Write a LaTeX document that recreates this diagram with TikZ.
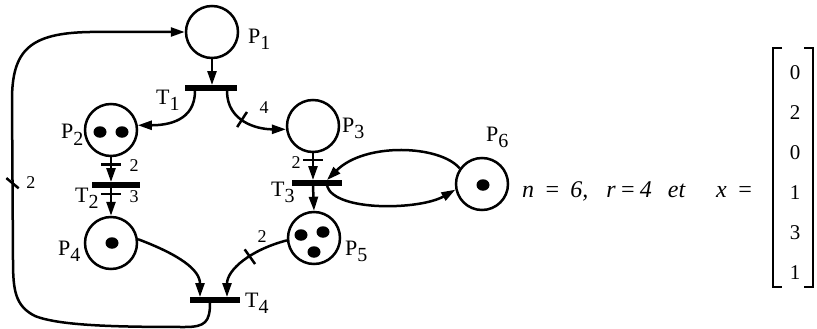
\documentclass[tikz,border=0pt]{standalone}
\usepackage{fontspec}
\setmainfont{Liberation Serif}
\usetikzlibrary{arrows.meta,calc,shapes.geometric}
\begin{document}
\begin{tikzpicture}[x=1pt,y=-1pt,
  place/.style={circle,draw,line width=2.5pt,minimum size=52pt,inner sep=0pt},
  trans/.style={rectangle,fill,minimum height=5.5pt,inner sep=0pt},
  arc/.style={line width=2.5pt,-{Triangle[length=14pt,width=9pt]}},
  tok/.style={ellipse,fill,minimum width=13pt,minimum height=11.5pt,inner sep=0pt},
  lbl/.style={font=\fontsize{22}{22}\selectfont,inner sep=0pt,anchor=base west},
  wt/.style={font=\fontsize{18}{18}\selectfont,inner sep=0pt},
  tick/.style={sloped,inner sep=0pt,outer sep=0pt},
  txt/.style={font=\fontsize{24}{24}\selectfont\itshape,inner sep=0pt,anchor=base west},
  num/.style={font=\fontsize{21}{21}\selectfont,inner sep=0pt},
  brk/.style={line width=2.5pt}
]
\useasboundingbox (0,0) rectangle (817,329);
\newcommand{\tk}[1][20pt]{\rule{2.5pt}{#1}}
\newcommand{\lab}[2]{#1\raisebox{-6pt}{\fontsize{20}{20}\selectfont #2}}

% places
\node[place] (P1) at (212,32) {};
\node[place] (P2) at (111,130) {};
\node[place] (P3) at (313,126) {};
\node[place] (P4) at (111,243) {};
\node[place] (P5) at (314,238) {};
\node[place] (P6) at (482,184) {};

% tokens
\node[tok] (k21) at (100,132) {};
\node[tok] (k22) at (122,132) {};
\node[tok] (k4) at (112,243) {};
\node[tok] (k51) at (301,235) {};
\node[tok] (k52) at (323,232) {};
\node[tok] (k53) at (314,252) {};
\node[tok] (k6) at (483,185) {};

% transitions
\node[trans,minimum width=52pt] (T1) at (211,88) {};
\node[trans,minimum width=48pt] (T2) at (116,185) {};
\node[trans,minimum width=50pt] (T3) at (317,183) {};
\node[trans,minimum width=50pt] (T4) at (215,300) {};

% labels
\node[lbl] (lP1) at (248,44) {\lab{P}{1}};
\node[lbl] (lT1) at (156,104) {\lab{T}{1}};
\node[lbl] (lP2) at (61,139) {\lab{P}{2}};
\node[lbl] (lP3) at (342,132) {\lab{P}{3}};
\node[lbl] (lT2) at (75,202) {\lab{T}{2}};
\node[lbl] (lT3) at (271,196) {\lab{T}{3}};
\node[lbl] (lP4) at (58,255) {\lab{P}{4}};
\node[lbl] (lP5) at (345,255) {\lab{P}{5}};
\node[lbl] (lP6) at (486,141) {\lab{P}{6}};
\node[lbl] (lT4) at (245,307) {\lab{T}{4}};

% arcs
\draw[arc] (P1.south) -- (P1.south |- T1.north);
\draw[arc] ([xshift=-16pt]T1.south) .. controls +(0,30) and +(30,0) .. (P2.10);
\draw[arc] ([xshift=16pt]T1.south) .. controls +(0,30) and +(-30,0) .. (P3.187)
  node[tick,pos=0.45] (t13) {\tk[18pt]};
\draw[arc] (P2.south) -- (P2.south |- T2.north)
  node[tick,pos=0.3] (t22) {\tk};
\draw[arc] (P2.south |- T2.south) -- (P4.north)
  node[tick,pos=0.22] (t24) {\tk};
\draw[arc] (P3.south) -- (P3.south |- T3.north)
  node[tick,pos=0.25] (t33) {\tk};
\draw[arc] (P3.south |- T3.south) -- (P5.north);
\draw[arc] (P6.145) .. controls (440,145) and (365,142) .. ([xshift=10pt]T3.north);
\draw[arc] ([xshift=10pt]T3.south) .. controls (335,212) and (420,210) .. (P6.192);
\draw[arc] (P4.8) .. controls (180,255) and (200,270) .. ([xshift=-15pt]T4.north);
\draw[arc] (P5.185) .. controls (250,250) and (227,270) .. ([xshift=12pt]T4.north)
  node[tick,pos=0.4] (t54) {\tk[18pt]};
\draw[arc] ([xshift=-5pt]T4.south) .. controls (210,322) and (205,327) .. (185,327)
  .. controls (120,327) and (60,326) .. (35,316)
  .. controls (15,306) and (13,290) .. (13,260)
  -- (12,100) node[tick,pos=0.48,rotate=-40] (tl) {\tk[16pt]}
  .. controls (12,50) and (30,33) .. (90,32) -- (P1.west);

% weights
\node[wt] (w13) at (264,108) {4};
\node[wt] (w22) at (134,166) {2};
\node[wt] (w24) at (134,197) {3};
\node[wt] (w33) at (296,163) {2};
\node[wt] (w54) at (262,237) {2};
\node[wt] (wl) at (31,183) {2};

% text
\node[txt] (eq) at (522,197) {n \,=\, 6,\ \ \ r\,=\,4\ \ \,et};
\node[txt] (xeq) at (716,197) {x \,=};

% vector
\node[num] (m1) at (795,73) {0};
\node[num] (m2) at (795,113) {2};
\node[num] (m3) at (795,153) {0};
\node[num] (m4) at (795,193) {1};
\node[num] (m5) at (795,233) {3};
\node[num] (m6) at (795,273) {1};
\draw[brk] (782,48) -- (773,48) -- (773,287) -- (782,287);
\draw[brk] (804,48) -- (813,48) -- (813,287) -- (804,287);
\end{tikzpicture}
\end{document}
